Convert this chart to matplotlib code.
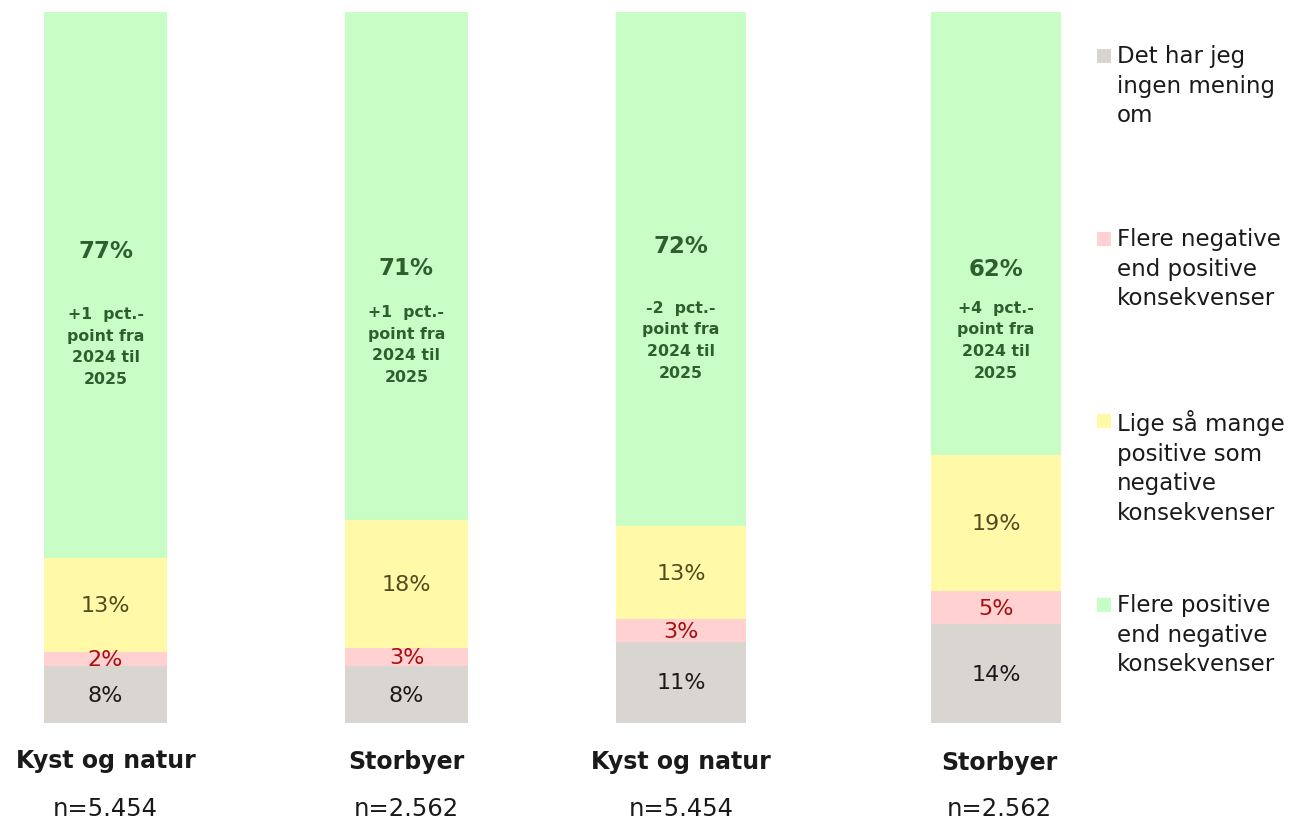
import matplotlib
matplotlib.use("Agg")
import matplotlib.pyplot as plt
from matplotlib.patches import Rectangle

plt.rcParams["font.family"] = ["DejaVu Sans"]

# data (percent)
categories = ["Kyst og natur", "Storbyer", "Kyst og natur", "Storbyer"]
n_labels = ["n=5.454", "n=2.562", "n=5.454", "n=2.562"]
no_opinion = [8.0, 8.0, 11.4, 13.9]
more_negative = [2.0, 2.6, 3.2, 4.6]
equal = [13.2, 18.0, 13.1, 19.2]
more_positive = [76.8, 71.4, 72.3, 62.3]
change_notes = ["+1  pct.-\npoint fra\n2024 til\n2025",
                "+1  pct.-\npoint fra\n2024 til\n2025",
                "-2  pct.-\npoint fra\n2024 til\n2025",
                "+4  pct.-\npoint fra\n2024 til\n2025"]
series_names = ["Det har jeg\ningen mening\nom",
                "Flere negative\nend positive\nkonsekvenser",
                "Lige så mange\npositive som\nnegative\nkonsekvenser",
                "Flere positive\nend negative\nkonsekvenser"]

# styling
colors = ["#D9D5D0", "#FFD1D1", "#FFF9A8", "#C9FDC6"]
text_colors = ["#1a1a1a", "#A50F0F", "#4F4C1E", "#2E5E2E"]
xpos = [105.5, 406.5, 681, 996]
widths = [123, 123, 130, 130]
big_y = [66.4, 64.1, 67.2, 63.9]
note_y = [53.0, 53.3, 53.9, 53.9]
cat_y = [-5.2, -5.3, -5.4, -5.5]

W, H = 1297, 820
fig = plt.figure(figsize=(W / 100, H / 100), dpi=100)
ax = fig.add_axes([0, (H - 724) / H, 1, (724 - 13) / H])
ax.set_xlim(0, W)
ax.set_ylim(0, 100)
ax.axis("off")

series = [no_opinion, more_negative, equal, more_positive]
bottom = [0, 0, 0, 0]
for k, vals in enumerate(series):
    ax.bar(xpos, vals, width=widths, bottom=bottom, color=colors[k], linewidth=0)
    if k < 3:
        for i, v in enumerate(vals):
            ax.text(xpos[i], bottom[i] + v / 2, f"{v:.0f}%", ha="center", va="center",
                    fontsize=16, color=text_colors[k])
    bottom = [b + v for b, v in zip(bottom, vals)]

for i in range(4):
    ax.text(xpos[i], big_y[i], f"{more_positive[i]:.0f}%", ha="center", va="center",
            fontsize=16.5, fontweight="bold", color=text_colors[3])
    ax.text(xpos[i], note_y[i], change_notes[i], ha="center", va="center",
            fontsize=11.3, fontweight="bold", color=text_colors[3], linespacing=1.55)
    ax.text(xpos[i] + (3 if i == 3 else 0), cat_y[i], categories[i], ha="center", va="center",
            fontsize=17, fontweight="bold", color="#1a1a1a", clip_on=False)
    ax.text(xpos[i] + (3 if i == 3 else 0), -11.9, n_labels[i], ha="center", va="center",
            fontsize=17.5, color="#1a1a1a", clip_on=False)

# legend, drawn by hand (top to bottom: grey, red, yellow, green)
leg_y = [57, 240, 422, 606]
for j, k in enumerate([0, 1, 2, 3]):
    y = leg_y[j]
    fig.patches.append(Rectangle((1097 / W, (H - y - 7) / H), 14 / W, 14 / H,
                                 transform=fig.transFigure, color=colors[k], linewidth=0))
    fig.text(1117 / W, (H - y + 12) / H, series_names[k], ha="left", va="top",
             fontsize=16.5, color="#1a1a1a", linespacing=1.37)

fig.savefig("out.png", dpi=100)
